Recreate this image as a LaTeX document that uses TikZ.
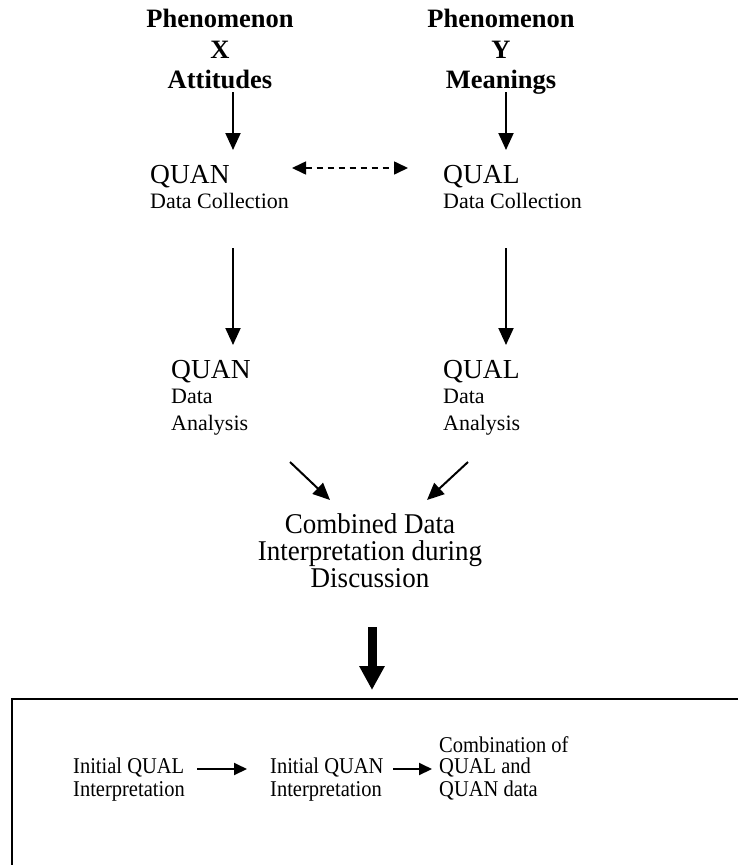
\documentclass[tikz,border=0pt]{standalone}
\usepackage{fontspec}
\usepackage{graphicx}
\setmainfont{Liberation Serif}
\usetikzlibrary{arrows.meta,calc}
\newcommand{\tallA}[1]{\scalebox{1}[1.06]{#1}}
\newcommand{\tallB}[1]{\scalebox{1}[1.1]{#1}}
\begin{document}
\begin{tikzpicture}[x=1pt,y=-1pt,
  ph/.style={font=\fontsize{26.5}{30}\selectfont\bfseries, inner sep=0pt, anchor=base},
  big/.style={font=\fontsize{27.5}{30}\selectfont, inner sep=0pt, anchor=base west},
  sm/.style={font=\fontsize{22}{25}\selectfont, inner sep=0pt, anchor=base west},
  mid/.style={font=\fontsize{27}{27}\selectfont, inner sep=0pt, anchor=base},
  low/.style={font=\fontsize{20.5}{22}\selectfont, inner sep=0pt, anchor=base west},
  arr/.style={line width=2pt, -{Triangle[width=15pt,length=17pt]}},
  darr/.style={line width=1.6pt, dash pattern=on 6pt off 5pt, {Triangle[width=13pt,length=14pt]}-{Triangle[width=13pt,length=14pt]}},
  larr/.style={line width=2pt, -{Triangle[width=12pt,length=13pt]}},
  bigarr/.style={line width=9pt, -{Triangle[width=24pt,length=24pt]}},
  frame/.style={line width=2pt}
]
\useasboundingbox (0,0) rectangle (738,865);

% top headings
\node[ph] (phX1) at (220,27) {Phenomenon};
\node[ph] (phX2) at (220,58) {X};
\node[ph] (phX3) at (220,88) {Attitudes};
\node[ph] (phY1) at (501,27) {Phenomenon};
\node[ph] (phY2) at (501,58) {Y};
\node[ph] (phY3) at (501,88) {Meanings};

% data collection
\node[big] (quanC) at (150,183) {QUAN};
\node[sm]  (dcL)   at (150,208) {Data Collection};
\node[big] (qualC) at (443,183) {QUAL};
\node[sm]  (dcR)   at (443,208) {Data Collection};

% data analysis
\node[big] (quanA) at (171,378) {QUAN};
\node[sm]  (daL1)  at (171,403) {Data};
\node[sm]  (daL2)  at (171,430) {Analysis};
\node[big] (qualA) at (443,378) {QUAL};
\node[sm]  (daR1)  at (443,403) {Data};
\node[sm]  (daR2)  at (443,430) {Analysis};

% combined
\node[mid] (comb1) at (370,533) {\tallA{Combined Data}};
\node[mid] (comb2) at (370,560) {\tallA{Interpretation during}};
\node[mid] (comb3) at (370,587) {\tallA{Discussion}};

% frame
\coordinate (boxtl) at (12,699);
\draw[frame] (738,699) -- (boxtl) -- (12,865);

% bottom row
\node[low] (iq1) at (73,773) {\tallB{Initial QUAL}};
\node[low] (iq2) at (73,796) {\tallB{Interpretation}};
\node[low] (in1) at (270,773) {\tallB{Initial QUAN}};
\node[low] (in2) at (270,796) {\tallB{Interpretation}};
\node[low] (co1) at (439,752) {\tallB{Combination of}};
\node[low] (co2) at (439,773) {\tallB{QUAL and}};
\node[low] (co3) at (439,796) {\tallB{QUAN data}};

% connectors
\draw[arr] ($(phX3.base)+(13,4)$) -- ($(quanC.base west)+(83,-33)$);
\draw[arr] ($(phY3.base)+(5,4)$) -- ($(qualC.base west)+(63,-33)$);
\draw[darr] ($(quanC.base west)+(142,-15)$) -- ($(qualC.base west)+(-35,-15)$);
\draw[arr] ($(dcL.base west)+(83,40)$) -- ($(quanA.base west)+(62,-33)$);
\draw[arr] ($(dcR.base west)+(63,40)$) -- ($(qualA.base west)+(63,-33)$);
\draw[arr] ($(daL2.base west)+(119,32)$) -- ($(comb1.base)+(-40,-33)$);
\draw[arr] ($(daR2.base west)+(25,32)$) -- ($(comb1.base)+(57,-33)$);
\draw[bigarr] ($(comb3.base)+(2,40)$) -- ($(boxtl)+(360,-9)$);
\draw[larr] ($(iq1.base west)+(124,-4)$) -- ($(in1.base west)+(-23,-4)$);
\draw[larr] ($(in1.base west)+(123,-4)$) -- ($(co2.base west)+(-7,-4)$);
\end{tikzpicture}
\end{document}
